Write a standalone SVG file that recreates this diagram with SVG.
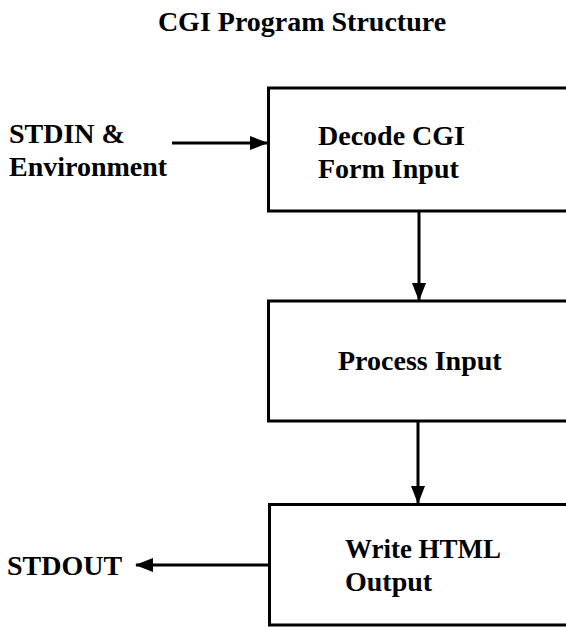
<svg xmlns="http://www.w3.org/2000/svg" width="566" height="627" viewBox="0 0 566 627">
<style>
  text { font-family: "Liberation Serif", "Times New Roman", serif; font-weight: bold; font-size: 28px; fill: #000; }
  .box { fill: #fff; stroke: #000; stroke-width: 3; }
  .conn { stroke: #000; stroke-width: 3; fill: none; marker-end: url(#arrow); }
</style>
<defs>
  <marker id="arrow" markerUnits="userSpaceOnUse" markerWidth="18" markerHeight="14" viewBox="0 0 18 14" refX="17" refY="7" orient="auto">
    <polygon points="0,0 18,7 0,14" fill="#000"/>
  </marker>
</defs>
<rect width="566" height="627" fill="#fff"/>
<text x="302" y="31" text-anchor="middle">CGI Program Structure</text>
<g id="stdin">
  <text x="9" y="143">STDIN &amp;</text>
  <text x="9" y="176">Environment</text>
</g>
<g id="decode">
  <path class="box" d="M568,88 H268.5 V211 H568"/>
  <text x="318" y="145">Decode CGI</text>
  <text x="318" y="178">Form Input</text>
</g>
<g id="process">
  <path class="box" d="M568,301 H268.5 V421 H568"/>
  <text x="338" y="370">Process Input</text>
</g>
<g id="write">
  <path class="box" d="M568,504.5 H269.5 V625 H568"/>
  <text x="345" y="558" textLength="156" lengthAdjust="spacingAndGlyphs">Write HTML</text>
  <text x="345" y="591">Output</text>
</g>
<g id="stdout">
  <text x="7" y="575">STDOUT</text>
</g>
<g id="connectors">
  <line class="conn" x1="172" y1="143" x2="267" y2="143"/>
  <line class="conn" x1="419" y1="212" x2="419" y2="300"/>
  <line class="conn" x1="418" y1="422" x2="418" y2="503"/>
  <line class="conn" x1="268" y1="565" x2="136" y2="565"/>
</g>
</svg>
